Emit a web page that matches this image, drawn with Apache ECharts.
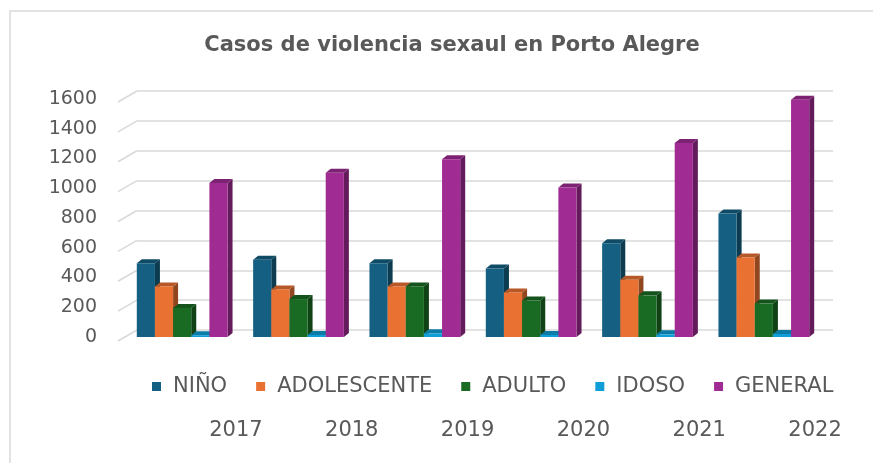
<!DOCTYPE html>
<html><head><meta charset="utf-8">
<script src="https://cdn.jsdelivr.net/npm/echarts@6/dist/echarts.min.js"></script>
<style>html,body{margin:0;padding:0;background:#fff}#c{width:873px;height:463px}</style>
</head><body><div id="c"></div>
<script>
const chartTitle = 'Casos de violencia sexaul en Porto Alegre';
const years = ['2017', '2018', '2019', '2020', '2021', '2022'];
const seriesNames = ['NIÑO', 'ADOLESCENTE', 'ADULTO', 'IDOSO', 'GENERAL'];
const nino = [495, 520, 495, 460, 630, 830];
const adolescente = [340, 320, 340, 300, 385, 535];
const adulto = [195, 255, 340, 245, 280, 225];
const idoso = [12, 14, 25, 14, 18, 20];
const general = [1035, 1105, 1195, 1005, 1305, 1595];
const yTicks = [0, 200, 400, 600, 800, 1000, 1200, 1400, 1600];

const colors = ['#156082', '#E97132', '#196B24', '#0F9ED5', '#A02B93'];
const values = [nino, adolescente, adulto, idoso, general];
const TXT = '#595959';
const FONT = 'DejaVu Sans';

function shade(hex, f) {
  const n = parseInt(hex.slice(1), 16);
  const r = Math.round(((n >> 16) & 255) * f), g = Math.round(((n >> 8) & 255) * f), b = Math.round((n & 255) * f);
  return 'rgb(' + r + ',' + g + ',' + b + ')';
}

function makeRender(sIdx, color) {
  const side = shade(color, 0.62), topc = shade(color, 0.78);
  return function (params, api) {
    const i = api.value(0), v = api.value(1);
    const b = api.coord([i, 0]);
    const t = api.coord([i, v]);
    const catW = api.size([1, 0])[0];
    const bw = catW * 0.78 / 5;
    const x0 = b[0] - bw * 2.5 + sIdx * bw, x1 = x0 + bw;
    const dx = 5, dy = -4;
    const yt = t[1], yb = b[1];
    return {
      type: 'group', children: [
        { type: 'polygon', shape: { points: [[x1, yt], [x1 + dx, yt + dy], [x1 + dx, yb + dy], [x1, yb]] }, style: { fill: side } },
        { type: 'polygon', shape: { points: [[x0, yt], [x0 + dx, yt + dy], [x1 + dx, yt + dy], [x1, yt]] }, style: { fill: topc } },
        { type: 'rect', shape: { x: x0, y: yt, width: bw, height: yb - yt }, style: { fill: color } }
      ]
    };
  };
}

const barSeries = seriesNames.map((name, s) => ({
  name: name,
  type: 'custom',
  xAxisIndex: 0, yAxisIndex: 0,
  itemStyle: { color: colors[s] },
  renderItem: makeRender(s, colors[s]),
  data: years.map((y, i) => [i, values[s][i]]),
  z: 3
}));

const diagSeries = {
  type: 'custom',
  xAxisIndex: 1, yAxisIndex: 1,
  silent: true,
  renderItem: function (params, api) {
    const p = api.coord([0, api.value(0)]);
    return { type: 'line', shape: { x1: p[0] - 19, y1: p[1] + 11, x2: p[0], y2: p[1] }, style: { stroke: '#d9d9d9', lineWidth: 1.5 } };
  },
  data: yTicks.map(v => [v]),
  encode: { y: 0 },
  z: 1
};

const chart = echarts.init(document.getElementById('c'), null, { renderer: 'canvas' });
chart.setOption({
  animation: false,
  backgroundColor: '#fff',
  title: {
    text: chartTitle, left: 447, top: 30, textAlign: 'center',
    textStyle: { fontFamily: FONT, fontSize: 21, fontWeight: 'bold', color: TXT }
  },
  legend: {
    data: seriesNames, left: 147, top: 371, icon: 'rect', itemWidth: 9, itemHeight: 9, itemGap: 29,
    textStyle: { fontFamily: FONT, fontSize: 21, color: TXT, padding: [0, 0, 0, 7] }
  },
  graphic: [{
    type: 'rect', shape: { x: 10, y: 11, width: 900, height: 500 },
    style: { fill: 'none', stroke: '#e3e3e3', lineWidth: 2 }, silent: true, z: -10
  }],
  grid: [
    { left: 124, width: 698, top: 99, bottom: 126 },
    { left: 137, width: 696, top: 91, height: 239 },
    { left: 178, width: 706, top: 99, bottom: 126 }
  ],
  xAxis: [
    { type: 'category', gridIndex: 0, data: years, axisLine: { show: false }, axisTick: { show: false }, axisLabel: { show: false }, splitLine: { show: false } },
    { type: 'value', gridIndex: 1, min: 0, max: 1, show: false },
    { type: 'category', gridIndex: 2, data: years, axisLine: { show: false }, axisTick: { show: false }, splitLine: { show: false },
      axisLabel: { margin: 83, fontFamily: FONT, fontSize: 21, color: TXT } }
  ],
  yAxis: [
    { type: 'value', gridIndex: 0, min: 0, max: 1600, interval: 200, axisLine: { show: false }, axisTick: { show: false }, splitLine: { show: false },
      axisLabel: { margin: 27, fontFamily: FONT, fontSize: 19, color: TXT, formatter: v => String(v) } },
    { type: 'value', gridIndex: 1, min: 0, max: 1600, interval: 200, axisLine: { show: false }, axisTick: { show: false }, axisLabel: { show: false },
      splitLine: { show: true, lineStyle: { color: '#d9d9d9', width: 1.5 } } },
    { type: 'value', gridIndex: 2, show: false }
  ],
  series: [diagSeries].concat(barSeries)
});
</script>
</body></html>
